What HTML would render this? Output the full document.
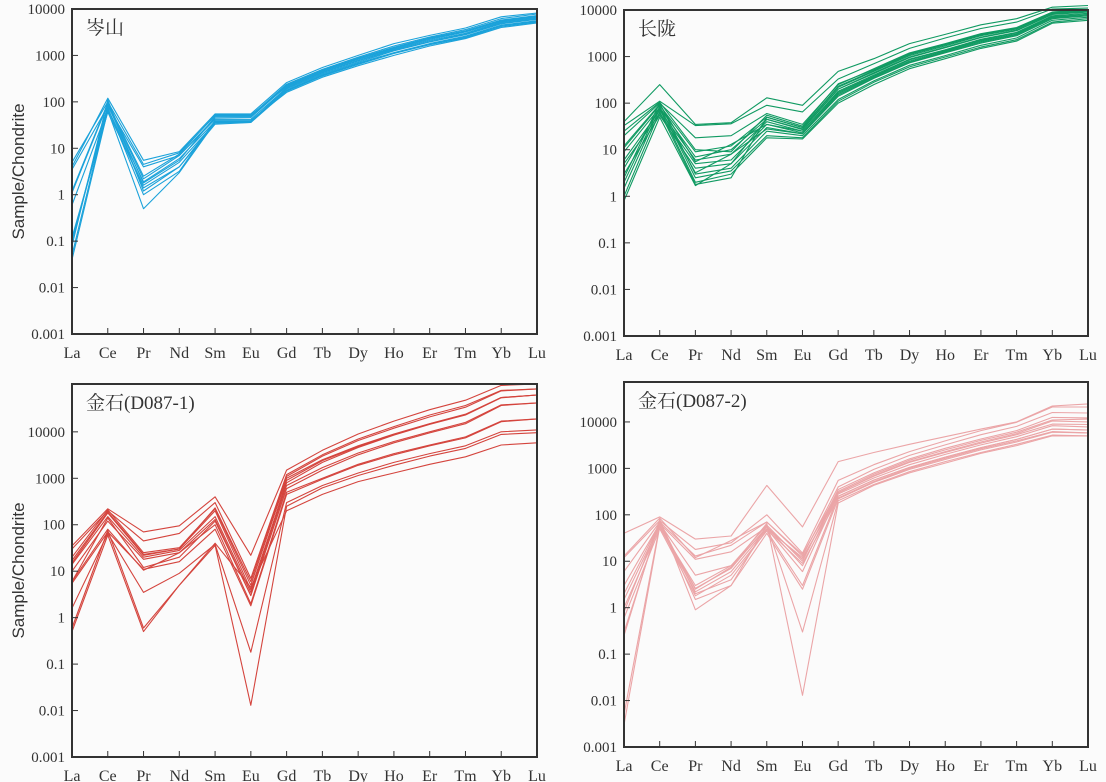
<!DOCTYPE html>
<html><head><meta charset="utf-8"><style>
body{margin:0;background:#fbfbfb;}
svg{display:block;}
text{font-family:"Liberation Serif","Noto Serif CJK SC",serif;fill:#333;}
</style></head><body>
<svg id="fig" width="1106" height="782" viewBox="0 0 1106 782" xmlns="http://www.w3.org/2000/svg"></svg>
<script>
const categories=["La","Ce","Pr","Nd","Sm","Eu","Gd","Tb","Dy","Ho","Er","Tm","Yb","Lu"];
const yTickLabels=["0.001","0.01","0.1","1","10","100","1000","10000"];
const yTickValues=[0.001,0.01,0.1,1,10,100,1000,10000];
const cenSeries=[
[4,120,5.5,8.5,55,55,260,550,1000,1800,2700,3900,6800,8200],
[5,100,4.5,8,50,50,240,500,920,1600,2500,3600,6200,7800],
[3.5,80,4,7,45,46,220,460,850,1450,2300,3300,5600,7000],
[1.1,90,2.2,7,42,42,200,430,780,1350,2100,3000,5200,6500],
[0.6,70,1.9,6,38,38,190,400,720,1250,1950,2800,4800,6000],
[0.12,60,1.6,5,35,36,180,380,680,1150,1800,2600,4500,5600],
[0.08,110,1.2,4,33,36,170,360,640,1100,1700,2400,4200,5200],
[0.05,75,1.0,3.2,40,40,160,340,600,1000,1600,2300,4000,5000],
[0.04,65,0.5,3,36,37,200,420,760,1300,2000,2900,5000,6200],
[0.1,85,1.8,5.5,48,48,230,480,880,1500,2400,3400,5800,7200],
[1.2,95,2.5,7.5,52,52,210,450,820,1400,2200,3200,5400,6800],
[0.1,70,1.4,4,37,38,175,370,660,1120,1750,2500,4400,5400]];
const changSeries=[
[40,250,35,38,130,90,480,900,1900,3000,4800,6500,11500,12500],
[33,110,33,36,90,65,330,700,1500,2500,4000,5500,10500,11000],
[20,100,18,20,60,35,250,550,1200,1900,3100,4200,9000,10000],
[11,90,9,12,50,30,220,480,1050,1700,2800,3900,8500,9500],
[9,80,7,10,45,28,200,430,950,1550,2550,3600,8000,9000],
[6,70,6,8,40,25,180,400,880,1400,2350,3300,7500,8500],
[5,60,5,6,35,23,160,370,800,1300,2150,3050,7000,8000],
[3,55,4,5,30,22,140,340,730,1200,1950,2800,6500,7500],
[2.5,100,3,4,25,20,120,300,650,1050,1750,2500,6000,7000],
[2,85,2.5,3.5,20,18,110,280,600,980,1600,2300,5500,6500],
[1.5,75,2,3,18,17,100,250,550,900,1500,2150,5200,6000],
[1,65,1.8,2.5,50,30,230,500,1100,1800,2900,4000,8800,9800],
[0.8,50,1.7,5,45,27,200,450,980,1600,2600,3700,8200,9200],
[12,95,5.5,13,35,25,170,380,850,1350,2250,3200,7200,8000],
[4,80,3.2,8,28,22,150,350,760,1250,2050,2950,6800,7600],
[25,105,10,9,55,32,260,520,1150,1850,3000,4100,9000,10000]];
const d1Series=[
[35,220,70,95,400,22,1500,4000,9000,17000,30000,48000,100000,107000],
[30,200,45,65,300,7,1200,3200,7000,13000,23000,37000,78000,84000],
[20,210,25,32,220,5,1000,2500,5000,9000,15000,24000,55000,62000],
[15,180,22,30,200,4,800,2200,4600,8500,14500,23000,54000,62000],
[14,150,20,28,150,3.5,700,1700,3500,6200,10000,16000,38000,42000],
[10,120,18,25,130,3,600,1500,3200,5800,9500,15000,37000,42000],
[6,80,10.5,25,100,2,500,1000,2000,3400,5200,7800,17000,19000],
[5.5,70,11,16,80,1.8,450,950,1900,3200,5000,7400,16500,19000],
[1.6,65,3.5,9,38,0.18,300,700,1300,2200,3400,5000,10000,11000],
[0.5,60,0.5,5,36,0.013,250,620,1150,1900,3000,4400,8800,9600],
[0.6,75,0.6,5,40,4.5,200,450,850,1300,2000,2900,5200,5800],
[6,140,12,20,120,3,900,2400,4800,8800,14800,23500,55000,62000],
[17,190,23,30,230,6,1100,3000,6500,12000,21000,34000,76000,84000]];
const d2Series=[
[40,90,30,35,430,55,1400,2200,3300,4800,7000,10000,22000,24500],
[12,75,18,25,100,15,550,1200,2300,3900,6500,9800,21000,21000],
[6,70,13,22,70,13,400,950,1900,3200,5300,8000,16000,15600],
[2,65,5,8,60,10,350,800,1600,2700,4300,6500,12500,12200],
[1.5,60,2.6,7,55,8,300,700,1400,2300,3700,5600,10500,10000],
[1,55,2.2,6,50,6,280,620,1200,2000,3200,4800,8300,7800],
[0.6,50,1.8,5,45,3,250,560,1050,1750,2800,4200,7000,6700],
[0.3,70,1.5,3,40,2.5,220,500,950,1550,2500,3700,6000,5800],
[0.25,80,0.9,3,60,0.3,200,450,850,1400,2200,3300,5200,5000],
[0.005,60,2.5,7.5,65,0.013,180,430,800,1300,2100,3100,5000,5000],
[0.003,55,3,8,50,12,250,560,1050,1750,2800,4200,7000,6700],
[3,65,11,16,55,11,300,680,1350,2200,3500,5300,9000,8800],
[0.8,72,2,4,48,9,230,520,1000,1650,2650,3900,6200,5800],
[13,85,12,28,70,14,320,750,1500,2500,4000,6000,11000,11500]];

const svg=document.getElementById('fig');
const NS='http://www.w3.org/2000/svg';
function mk(tag,attrs,parent){const e=document.createElementNS(NS,tag);for(const k in attrs)e.setAttribute(k,attrs[k]);(parent||svg).appendChild(e);return e;}

function panel(name,title,series,color,x0,x1,top,bottom,logMax,yLabel){
  const g=mk('g',{});
  
  
  const logMin=-3;
  const xs=i=>x0+i*(x1-x0)/(categories.length-1);
  const ys=v=>bottom-(Math.log10(v)-logMin)/(logMax-logMin)*(bottom-top);
  series.forEach((s,si)=>{
    const d=s.map((v,i)=>(i?'L':'M')+xs(i).toFixed(1)+' '+ys(v).toFixed(1)).join(' ');
    const p=mk('path',{d:d,fill:'none',stroke:color,'stroke-width':1.1,'stroke-linejoin':'round'},g);
    
    
  });
  const f=mk('rect',{x:x0,y:top,width:x1-x0,height:bottom-top,fill:'none',stroke:'#333','stroke-width':2},g);
  
  
  categories.forEach((c,i)=>{
    mk('line',{x1:xs(i),x2:xs(i),y1:bottom,y2:bottom-6,stroke:'#333','stroke-width':1},g);
    const t=mk('text',{x:xs(i),y:bottom+24,'text-anchor':'middle','font-size':16},g);
    t.textContent=c;
    
    
  });
  yTickValues.forEach((v,i)=>{
    const y=ys(v);
    mk('line',{x1:x0,x2:x0+6,y1:y,y2:y,stroke:'#333','stroke-width':1},g);
    const t=mk('text',{x:x0-7,y:y+5,'text-anchor':'end','font-size':15},g);
    t.textContent=yTickLabels[i];
    
    
  });
  const tt=mk('text',{x:x0+14,y:top+25,'font-size':19},g);
  tt.textContent=title;
  
  
  if(yLabel){
    const cy=(top+bottom)/2;
    const yl=mk('text',{x:24,y:cy,'text-anchor':'middle','font-size':17,transform:'rotate(-90 24 '+cy+')',style:'font-family:"Liberation Sans",sans-serif'},g);
    yl.textContent='Sample/Chondrite';
    
    
  }
}
panel('panel-censhan','岑山',cenSeries,'#1ba2da',72,537,9,334,4,true);
panel('panel-changling','长陇',changSeries,'#109a62',624,1088,10,336,4,false);
panel('panel-jinshi-d087-1','金石(D087-1)',d1Series,'#d4443d',72,537,384,757,5.03,true);
panel('panel-jinshi-d087-2','金石(D087-2)',d2Series,'#eba5a7',624,1088,382,747,4.86,false);
</script>
</body></html>
